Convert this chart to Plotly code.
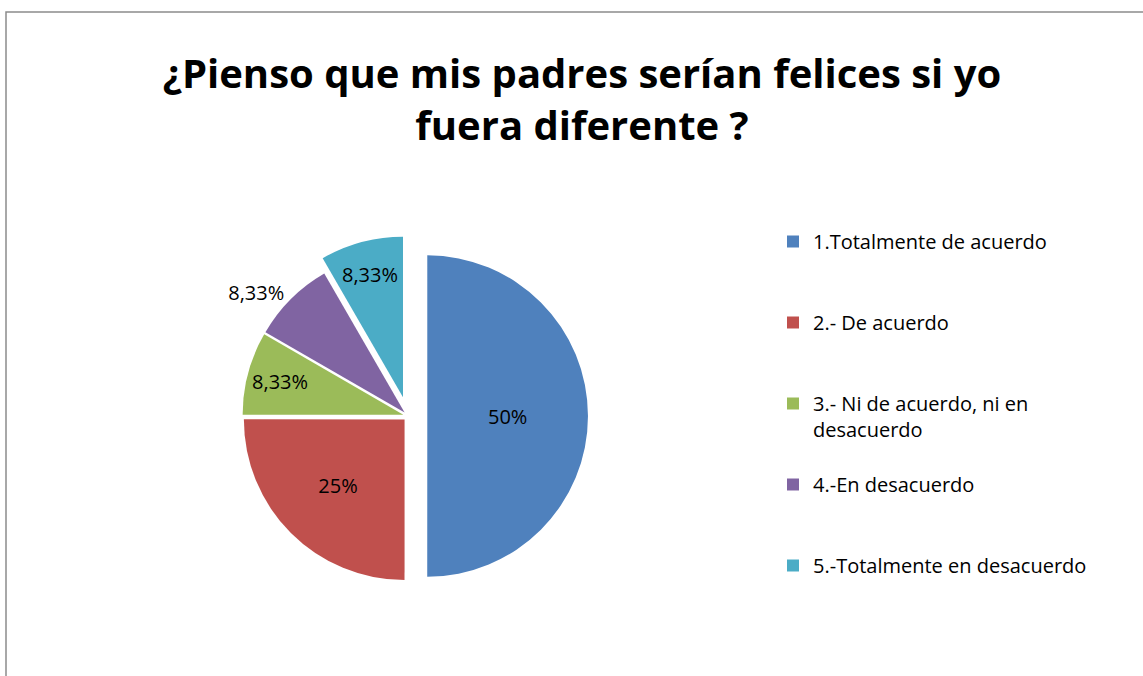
import plotly.graph_objects as go

# Data
categories = [
    "1.Totalmente de acuerdo",
    "2.- De acuerdo",
    "3.- Ni de acuerdo, ni en desacuerdo",
    "4.-En desacuerdo",
    "5.-Totalmente en desacuerdo",
]
values = [50, 25, 8.33, 8.33, 8.33]
value_labels = ["50%", "25%", "8,33%", "8,33%", "8,33%"]

colors = ["#4F81BD", "#C0504D", "#9BBB59", "#8064A2", "#4BACC6"]
pulls = [0.12, 0.03, 0.03, 0.03, 0.12]
text_positions = ["inside", "inside", "inside", "outside", "inside"]

# Legend labels (wrapped + padded to reproduce the legend spacing)
legend_labels = [
    "1.Totalmente de acuerdo<br> <br> ",
    "2.- De acuerdo<br> <br> ",
    "3.- Ni de acuerdo, ni en<br>desacuerdo<br> ",
    "4.-En desacuerdo<br> <br> ",
    "5.-Totalmente en desacuerdo",
]

W, H = 1143, 676
FONT = "Open Sans"

fig = go.Figure(
    go.Pie(
        labels=legend_labels,
        values=values,
        text=value_labels,
        texttemplate="%{text}",
        textposition=text_positions,
        insidetextorientation="horizontal",
        textfont=dict(family=FONT, size=20, color="black"),
        marker=dict(colors=colors, line=dict(width=0)),
        pull=pulls,
        sort=False,
        direction="clockwise",
        rotation=0,
        hoverinfo="label+percent",
        domain=dict(x=[228 / W, 588 / W], y=[1 - 596 / H, 1 - 236 / H]),
    )
)

fig.update_layout(
    width=W,
    height=H,
    margin=dict(l=0, r=0, t=0, b=0),
    paper_bgcolor="white",
    plot_bgcolor="white",
    font=dict(family=FONT, color="black"),
    title=dict(
        text="¿Pienso que mis padres serían felices si yo<br>fuera diferente ?",
        x=582 / W,
        xanchor="center",
        y=1 - 88 / H,
        yanchor="middle",
        yref="container",
        font=dict(family=FONT, size=40, color="black", weight="bold"),
    ),
    legend=dict(
        x=773 / W,
        xanchor="left",
        y=1 - 222 / H,
        yanchor="top",
        valign="top",
        font=dict(family=FONT, size=20, color="black"),
        itemwidth=30,
        traceorder="normal",
    ),
    showlegend=True,
    shapes=[
        dict(
            type="rect",
            xref="paper",
            yref="paper",
            x0=6 / W,
            x1=1.01,
            y0=-0.01,
            y1=1 - 12 / H,
            line=dict(color="#8C8C8C", width=1.5),
            fillcolor="rgba(0,0,0,0)",
            layer="below",
        )
    ],
)

fig.write_html(
    "out.html",
    config={"displayModeBar": False},
    post_script="document.body.style.margin='0px';",
)
